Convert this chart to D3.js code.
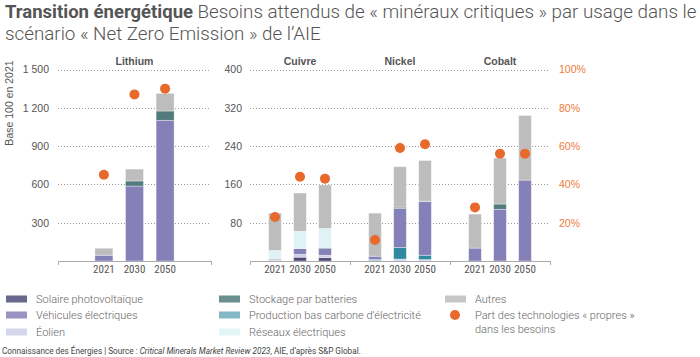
<!DOCTYPE html>
<html><head><meta charset="utf-8">
<script src="https://cdn.jsdelivr.net/npm/d3@7"></script>
<style>
body{margin:0;background:#fff;}
svg{display:block;font-family:Roboto,"Noto Sans",sans-serif;}
</style></head>
<body><svg id="c" width="700" height="357"></svg>
<script>
// ---- data ----
const minerals = ["Lithium","Cuivre","Nickel","Cobalt"];
const years = ["2021","2030","2050"];
const seriesNames = ["Solaire photovoltaïque","Éolien","Production bas carbone d’électricité","Véhicules électriques","Stockage par batteries","Réseaux électriques","Autres"];
// values in order: Lithium(2021,2030,2050), Cuivre(...), Nickel(...), Cobalt(...)
const solaire    = [0,0,0,     1,8,7,     0,0,0,      0,0,0];
const eolien     = [0,0,0,     1,6,5,     1,4,3,      0,0,0];
const prodBasCarbone = [0,0,0, 0,0,0,     2,24,9,     0,0,0];
const vehicules  = [45,587,1102, 2,12,14, 7,82,112,   27,108,169];
const stockage   = [0,40,73,   0,0,2,     0,2.5,1,    0,11,0];
const reseaux    = [0,0,0,     18,36,40,  0,0,0,      0,0,0];
const autres     = [55,93,138, 78,80,91,  90,84.5,85, 71,96,135];
const sharePropres = [45,87,90, 23,44,43, 11,59,61,   28,56,56];
const leftTicks = [300,600,900,1200,1500];
const midTicks = [80,160,240,320,400];
const pctTicks = [20,40,60,80,100];

const colors = ["#4f4c78","#cfcfe9","#2f8a9e","#8680b8","#537a7c","#dff3f6","#bdbdbd"];
const dotColor = "#e8692c";
const axisFont = "'Liberation Sans',Arial,sans-serif";
const narrowFont = "'Liberation Sans Narrow','Arial Narrow','Roboto Condensed',sans-serif";

const svg = d3.select("#c");
const yBase = 261, yTop = 69.5;
const yLi = d3.scaleLinear([0,1500],[yBase,yTop]);
const yOth = d3.scaleLinear([0,400],[yBase,yTop]);
const yPct = d3.scaleLinear([0,100],[yBase,yTop]);

// group positions
const groupX = {};
groupX["Lithium"] = {x0:58, x1:211, pad:1.5, bw:18, y:yLi};
const band = d3.scaleBand(["Cuivre","Nickel","Cobalt"],[250,550]);
["Cuivre","Nickel","Cobalt"].forEach(m=>{groupX[m]={x0:band(m),x1:band(m)+band.bandwidth(),pad:1,bw:12.7,y:yOth};});

const seriesArr = [solaire,eolien,prodBasCarbone,vehicules,stockage,reseaux,autres];
const rows = [];
minerals.forEach((m,mi)=>years.forEach((yr,yi)=>{
  const o={mineral:m,year:yr};
  seriesNames.forEach((s,si)=>o[s]=seriesArr[si][mi*3+yi]);
  o.share = sharePropres[mi*3+yi];
  rows.push(o);
}));
const stacked = d3.stack().keys(seriesNames)(rows);

const fr = d3.formatLocale({decimal:",",thousands:"\u00a0",grouping:[3],currency:["","€"]});
const fmt = fr.format(",d");

// title
const title = svg.append("text").attr("x",5).attr("y",18).attr("fill","#555");
title.append("tspan").attr("font-weight",700).attr("font-size",18.5).text("Transition énergétique");
title.append("tspan").attr("font-weight",300).attr("font-size",18.8).text(" Besoins attendus de « minéraux critiques » par usage dans le");
svg.append("text").attr("x",5).attr("y",40).attr("font-size",18.8).attr("font-weight",300).attr("fill","#555")
  .text("scénario « Net Zero Emission » de l’AIE");

// gridlines
function grid(x0,x1,scale,ticks){
  svg.append("g").selectAll("line").data(ticks).join("line")
    .attr("x1",x0).attr("x2",x1).attr("y1",d=>Math.round(scale(d))+0.5).attr("y2",d=>Math.round(scale(d))+0.5)
    .attr("stroke","#999").attr("stroke-width",1).attr("stroke-dasharray","1,2");
}
grid(58,211,yLi,leftTicks);
grid(250,550,yOth,midTicks);

// axes labels
const axL = svg.append("g").attr("transform","translate(49,0)")
  .call(d3.axisLeft(yLi).tickValues(leftTicks).tickFormat(fmt).tickSize(0).tickPadding(0));
const axM = svg.append("g").attr("transform","translate(242,0)")
  .call(d3.axisLeft(yOth).tickValues(midTicks).tickFormat(fmt).tickSize(0).tickPadding(0));
const axR = svg.append("g").attr("transform","translate(559,0)")
  .call(d3.axisRight(yPct).tickValues(pctTicks).tickFormat(d=>d+"%").tickSize(0).tickPadding(0));
[axL,axM,axR].forEach(a=>{a.select(".domain").remove();a.selectAll("text").attr("font-size",10.5).attr("font-family",axisFont);});
axL.selectAll("text").attr("fill","#555");
axM.selectAll("text").attr("fill","#555");
axR.selectAll("text").attr("fill","#ef7a38");

svg.append("text").attr("transform","translate(13,103) rotate(-90)").attr("text-anchor","middle")
  .attr("font-size",10.5).attr("font-family",axisFont).attr("fill","#555").text("Base 100 en 2021");

// x positions
function xPos(m,yr){
  const g = groupX[m];
  const p = d3.scalePoint(years,[g.x0,g.x1]).padding(g.pad);
  return p(yr);
}

// bars
stacked.forEach((layer,li)=>{
  svg.append("g").selectAll("rect").data(layer.filter(d=>d[1]-d[0]>0)).join("rect")
    .attr("x",d=>xPos(d.data.mineral,d.data.year)-groupX[d.data.mineral].bw/2)
    .attr("width",d=>groupX[d.data.mineral].bw)
    .attr("y",d=>groupX[d.data.mineral].y(d[1]))
    .attr("height",d=>groupX[d.data.mineral].y(d[0])-groupX[d.data.mineral].y(d[1]))
    .attr("fill",colors[li])
    .attr("stroke","#fff").attr("stroke-opacity",0.45).attr("stroke-width",0.8);
});

// baseline axes with group ticks
function baseAxis(x0,x1,ticks){
  svg.append("line").attr("x1",x0).attr("x2",x1).attr("y1",yBase+0.5).attr("y2",yBase+0.5).attr("stroke","#aaa");
  svg.append("g").selectAll("line").data(ticks).join("line")
    .attr("x1",d=>d+0.5).attr("x2",d=>d+0.5).attr("y1",yBase).attr("y2",yBase+4).attr("stroke","#aaa");
}
baseAxis(58,211,[58,211]);
baseAxis(250,550,[250,350,450,550]);

// year labels
svg.append("g").selectAll("text").data(rows).join("text")
  .attr("x",d=>xPos(d.mineral,d.year)).attr("y",273).attr("text-anchor","middle")
  .attr("font-size",11).attr("font-family",narrowFont).attr("fill","#555").text(d=>d.year);

// dots
svg.append("g").selectAll("circle").data(rows).join("circle")
  .attr("cx",d=>xPos(d.mineral,d.year)).attr("cy",d=>yPct(d.share)).attr("r",5)
  .attr("fill",dotColor);

// panel titles
svg.append("g").selectAll("text").data(minerals).join("text")
  .attr("x",d=>(groupX[d].x0+groupX[d].x1)/2).attr("y",65).attr("text-anchor","middle")
  .attr("font-size",10.5).attr("font-family",axisFont).attr("font-weight",700).attr("fill","#555").text(d=>d);

// legend
const legendItems = [
  {name:"Solaire photovoltaïque",c:0,x:6,y:299},
  {name:"Véhicules électriques",c:3,x:6,y:315},
  {name:"Éolien",c:1,x:6,y:332},
  {name:"Stockage par batteries",c:4,x:219,y:299},
  {name:"Production bas carbone d’électricité",c:2,x:219,y:315},
  {name:"Réseaux électriques",c:5,x:219,y:332},
  {name:"Autres",c:6,x:445,y:299}
];
const lg = svg.append("g");
legendItems.forEach(it=>{
  lg.append("rect").attr("x",it.x).attr("y",it.y-3.5).attr("width",21).attr("height",7)
    .attr("fill",colors[it.c]).attr("fill-opacity",it.c===2?0.6:0.85);
  lg.append("text").attr("x",it.x+30).attr("y",it.y+4).attr("font-size",11).attr("font-weight",300)
    .attr("fill","#666").text(it.name);
});
lg.append("circle").attr("cx",455).attr("cy",315).attr("r",5).attr("fill",dotColor);
lg.append("text").attr("x",475).attr("y",319).attr("font-size",11).attr("font-weight",300).attr("fill","#666")
  .text("Part des technologies « propres »");
lg.append("text").attr("x",475).attr("y",333).attr("font-size",11).attr("font-weight",300).attr("fill","#666")
  .text("dans les besoins");

// source
const src = svg.append("text").attr("x",2).attr("y",354).attr("font-size",8.2).attr("fill","#444");
src.append("tspan").text("Connaissance des Énergies | Source : ");
src.append("tspan").attr("font-style","italic").text("Critical Minerals Market Review 2023");
src.append("tspan").text(", AIE, d’après S&P Global.");
</script></body></html>
